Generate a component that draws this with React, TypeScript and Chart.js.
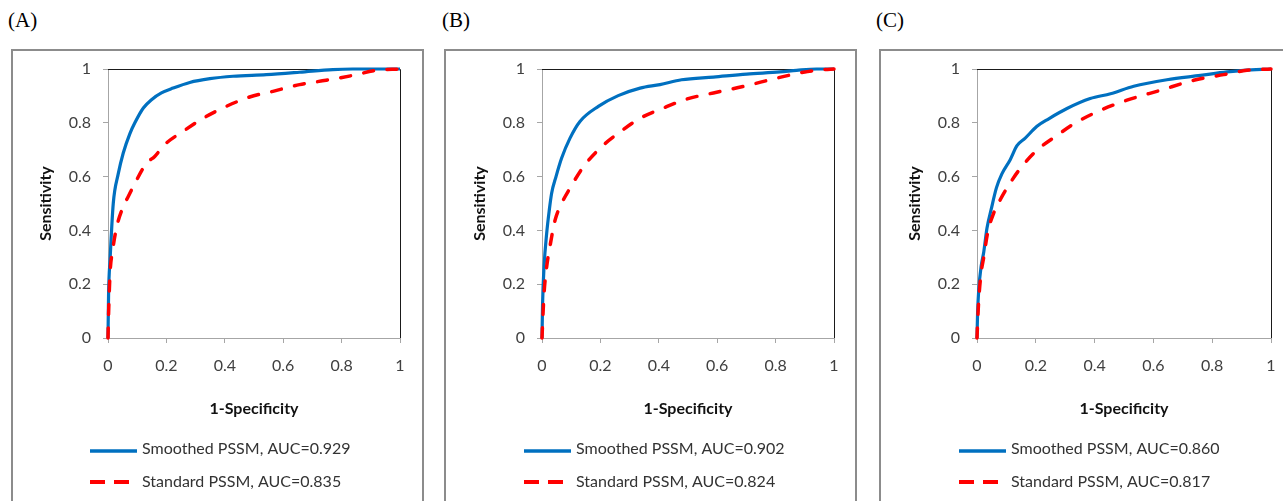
import React, { useEffect, useRef } from "react";
import { Chart, registerables } from "chart.js";

Chart.register(...registerables);

// ---------- data ----------
const panelLabels = ["(A)", "(B)", "(C)"];
const smoothedAUC = ["0.929", "0.902", "0.860"];
const standardAUC = ["0.835", "0.824", "0.817"];
const xAxisTitle = "1-Specificity";
const yAxisTitle = "Sensitivity";

const aSmoothX = [0, 0.002, 0.007, 0.018, 0.035, 0.052, 0.075, 0.092, 0.121, 0.149, 0.183, 0.223, 0.28, 0.349, 0.428, 0.542, 0.656, 0.77, 0.838, 1];
const aSmoothY = [0, 0.165, 0.29, 0.5, 0.61, 0.687, 0.76, 0.8, 0.855, 0.886, 0.911, 0.929, 0.95, 0.964, 0.973, 0.979, 0.988, 0.998, 1, 1];
const aStdX = [0, 0.002, 0.007, 0.016, 0.03, 0.052, 0.069, 0.092, 0.132, 0.16, 0.195, 0.257, 0.326, 0.405, 0.485, 0.565, 0.656, 0.747, 0.838, 0.918, 1];
const aStdY = [0, 0.09, 0.24, 0.327, 0.414, 0.488, 0.525, 0.575, 0.65, 0.675, 0.72, 0.768, 0.817, 0.861, 0.896, 0.917, 0.942, 0.958, 0.976, 0.995, 1];

const bSmoothX = [0, 0.002, 0.007, 0.016, 0.025, 0.033, 0.048, 0.067, 0.096, 0.13, 0.193, 0.261, 0.336, 0.404, 0.478, 0.587, 0.701, 0.815, 0.872, 0.94, 1];
const bSmoothY = [0, 0.128, 0.265, 0.389, 0.476, 0.538, 0.6, 0.668, 0.743, 0.805, 0.861, 0.901, 0.929, 0.942, 0.96, 0.97, 0.981, 0.989, 0.995, 1, 1];
const bStdX = [0, 0.002, 0.007, 0.016, 0.027, 0.045, 0.067, 0.096, 0.142, 0.205, 0.261, 0.336, 0.416, 0.495, 0.587, 0.689, 0.804, 0.895, 0.963, 1];
const bStdY = [0, 0.053, 0.165, 0.265, 0.339, 0.439, 0.5, 0.557, 0.637, 0.712, 0.761, 0.817, 0.855, 0.888, 0.911, 0.935, 0.966, 0.988, 0.998, 1];

const cSmoothX = [0, 0.002, 0.006, 0.014, 0.023, 0.034, 0.048, 0.066, 0.085, 0.113, 0.136, 0.164, 0.204, 0.244, 0.306, 0.385, 0.454, 0.533, 0.646, 0.76, 0.85, 0.907, 1];
const cSmoothY = [0, 0.093, 0.18, 0.266, 0.32, 0.409, 0.477, 0.558, 0.611, 0.663, 0.715, 0.743, 0.787, 0.815, 0.853, 0.89, 0.908, 0.936, 0.96, 0.976, 0.989, 0.995, 1];
const cStdX = [0, 0.002, 0.006, 0.014, 0.023, 0.036, 0.057, 0.079, 0.108, 0.147, 0.204, 0.272, 0.34, 0.419, 0.51, 0.624, 0.737, 0.839, 0.918, 1];
const cStdY = [0, 0.056, 0.143, 0.242, 0.301, 0.39, 0.465, 0.514, 0.568, 0.63, 0.698, 0.753, 0.803, 0.846, 0.884, 0.921, 0.958, 0.979, 0.995, 1];

const smoothXs = [aSmoothX, bSmoothX, cSmoothX];
const smoothYs = [aSmoothY, bSmoothY, cSmoothY];
const stdXs = [aStdX, bStdX, cStdX];
const stdYs = [aStdY, bStdY, cStdY];

// ---------- styles / layout ----------
const FONT = "Lato, 'Open Sans', sans-serif";
const BLUE = "#0070c0";
const RED = "#ff0000";
const AXIS_GRAY = "#a6a6a6";

const CANVAS_TOP = 51;
const CANVAS_H = 450;
// box left, box right, plot left, plot right (page coords)
const panelGeom = [
  { boxL: 11, boxR: 424, plotL: 108, plotR: 400, labelL: 8 },
  { boxL: 444, boxR: 857, plotL: 542, plotR: 834, labelL: 442 },
  { boxL: 879, boxR: 1295, plotL: 977, plotR: 1271, labelL: 876 },
];

const toPts = (xs: number[], ys: number[]) => xs.map((x, i) => ({ x, y: ys[i] }));

const framePlugin = {
  id: "plotFrame",
  beforeDatasetsDraw(chart: any) {
    const { ctx, chartArea } = chart;
    const { left, top, right, bottom } = chartArea;
    ctx.save();
    ctx.strokeStyle = "#1a1a1a";
    ctx.lineWidth = 1;
    ctx.beginPath();
    ctx.moveTo(left, Math.round(top) + 0.5);
    ctx.lineTo(Math.round(right) + 0.5, Math.round(top) + 0.5);
    ctx.lineTo(Math.round(right) + 0.5, bottom);
    ctx.stroke();
    ctx.restore();
  },
};

const legendPlugin = {
  id: "rocLegend",
  afterDraw(chart: any, _args: any, opts: any) {
    const { ctx, chartArea } = chart;
    const x0 = chartArea.left;
    ctx.save();
    (opts.items || []).forEach((it: any, i: number) => {
      const y = opts.rows[i];
      ctx.beginPath();
      ctx.strokeStyle = it.color;
      ctx.lineWidth = it.width;
      ctx.lineCap = "butt";
      ctx.setLineDash(it.dash);
      ctx.moveTo(x0 - 18, y);
      ctx.lineTo(x0 + 29, y);
      ctx.stroke();
      ctx.setLineDash([]);
      ctx.fillStyle = "#333333";
      ctx.font = `16px ${FONT}`;
      ctx.textAlign = "left";
      ctx.textBaseline = "middle";
      ctx.fillText(it.text, x0 + 34, y + it.textDy);
    });
    ctx.restore();
  },
};

const fmt = (v: any) => String(Math.round(Number(v) * 10) / 10);

function Panel({ idx }: { idx: number }) {
  const ref = useRef<HTMLCanvasElement | null>(null);
  const g = panelGeom[idx];
  const canvasL = g.boxL + 2;
  const canvasW = Math.min(g.boxR - 2, 1283) - canvasL;
  const yW = g.plotL - canvasL;
  const padR = canvasW - (g.plotR - canvasL);

  useEffect(() => {
    if (!ref.current) return;
    const chart = new Chart(ref.current, {
      type: "line",
      data: {
        datasets: [
          {
            label: `Standard PSSM, AUC=${standardAUC[idx]}`,
            data: toPts(stdXs[idx], stdYs[idx]),
            borderColor: RED,
            backgroundColor: RED,
            borderWidth: 3.5,
            borderDash: [10, 13.5],
            borderCapStyle: "round",
            pointRadius: 0,
            cubicInterpolationMode: "monotone",
            fill: false,
            clip: 6,
          } as any,
          {
            label: `Smoothed PSSM, AUC=${smoothedAUC[idx]}`,
            data: toPts(smoothXs[idx], smoothYs[idx]),
            borderColor: BLUE,
            backgroundColor: BLUE,
            borderWidth: 3.2,
            pointRadius: 0,
            cubicInterpolationMode: "monotone",
            fill: false,
            clip: 6,
          } as any,
        ],
      },
      options: {
        animation: false,
        responsive: false,
        devicePixelRatio: 1,
        events: [],
        layout: { autoPadding: false, padding: { left: 0, top: 18, right: padR, bottom: 83 } },
        plugins: {
          legend: { display: false },
          tooltip: { enabled: false },
          rocLegend: {
            rows: [400, 431],
            items: [
              { text: `Smoothed PSSM, AUC=${smoothedAUC[idx]}`, color: BLUE, width: 3.5, dash: [], textDy: -2 },
              { text: `Standard PSSM, AUC=${standardAUC[idx]}`, color: RED, width: 4, dash: [15, 9], textDy: 0 },
            ],
          },
        } as any,
        scales: {
          x: {
            type: "linear",
            position: "bottom",
            min: 0,
            max: 1,
            ticks: {
              stepSize: 0.2,
              padding: 13,
              color: "#404040",
              maxRotation: 0,
              font: { family: FONT, size: 16 },
              callback: fmt,
            },
            grid: { drawOnChartArea: false, drawTicks: true, tickLength: 5, color: AXIS_GRAY },
            border: { color: AXIS_GRAY, width: 1 },
            title: {
              display: true,
              text: xAxisTitle,
              color: "#111111",
              font: { family: FONT, size: 16, weight: "bold" },
              padding: { top: 7.4, bottom: 0 },
            },
            afterFit: (s: any) => {
              s.height = 80;
              s.paddingLeft = 0;
              s.paddingRight = 0;
              s.paddingTop = 0;
              s.paddingBottom = 0;
            },
          } as any,
          y: {
            type: "linear",
            position: "left",
            min: 0,
            max: 1,
            ticks: {
              stepSize: 0.2,
              padding: 12,
              color: "#404040",
              font: { family: FONT, size: 16 },
              callback: fmt,
            },
            grid: { drawOnChartArea: false, drawTicks: true, tickLength: 5, color: AXIS_GRAY },
            border: { color: AXIS_GRAY, width: 1 },
            title: {
              display: true,
              text: yAxisTitle,
              color: "#111111",
              font: { family: FONT, size: 16, weight: "bold" },
              padding: { top: yW - 71.6, bottom: 0 },
            },
            afterFit: (s: any) => {
              s.width = yW;
              s.paddingTop = 0;
              s.paddingBottom = 0;
              s.paddingLeft = 0;
              s.paddingRight = 0;
            },
          } as any,
        },
      },
      plugins: [framePlugin, legendPlugin],
    });
    return () => chart.destroy();
  }, [idx]);

  return (
    <>
      <div
        style={{
          position: "absolute",
          left: g.labelL,
          top: 10,
          fontFamily: "'Liberation Serif', 'Times New Roman', serif",
          fontSize: 21,
          lineHeight: "21px",
          color: "#000",
          whiteSpace: "nowrap",
        }}
      >
        {panelLabels[idx]}
      </div>
      <div
        style={{
          position: "absolute",
          left: g.boxL,
          top: 49,
          width: g.boxR - g.boxL - 4,
          height: 520,
          border: "2px solid #8c8c8c",
        }}
      />
      <canvas
        ref={ref}
        width={canvasW}
        height={CANVAS_H}
        style={{ position: "absolute", left: canvasL, top: CANVAS_TOP, width: canvasW, height: CANVAS_H }}
      />
    </>
  );
}

export default function App() {
  return (
    <div
      style={{
        position: "fixed",
        left: 0,
        top: 0,
        width: 1283,
        height: 501,
        overflow: "hidden",
        background: "#fff",
      }}
    >
      {panelGeom.map((_, i) => (
        <Panel key={i} idx={i} />
      ))}
    </div>
  );
}
